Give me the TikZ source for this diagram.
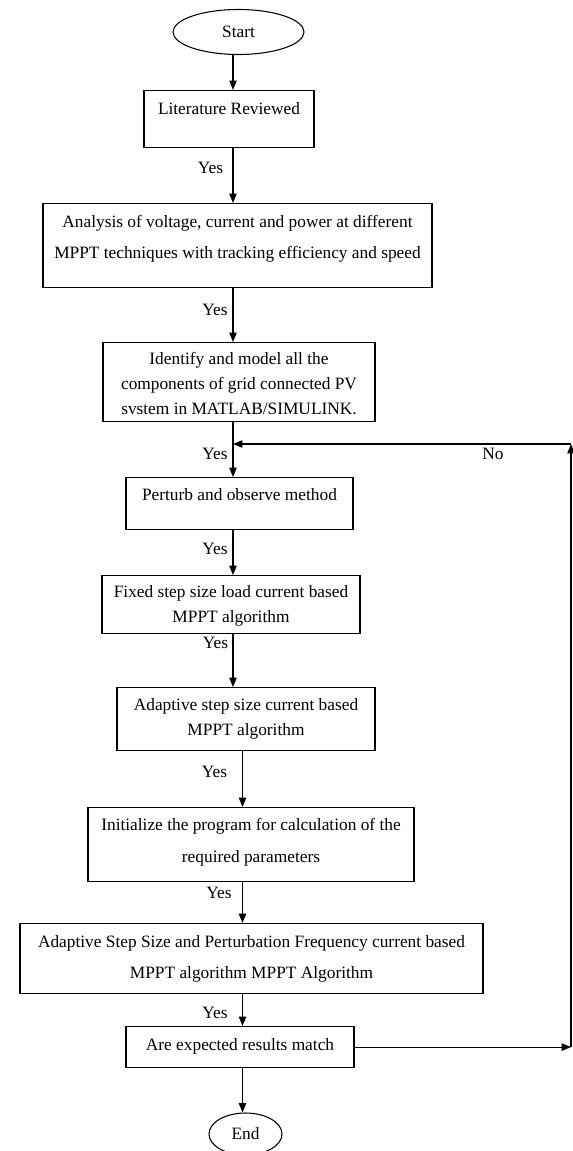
\documentclass[tikz,border=0pt]{standalone}
\usepackage{fontspec}
\setmainfont{Liberation Serif}
\usetikzlibrary{shapes.geometric,arrows.meta}
\begin{document}
\begin{tikzpicture}[x=0.75pt, y=-0.75pt,
        box/.style={draw, line width=0.9pt, inner sep=0pt, anchor=north, align=center},
        term/.style={draw, ellipse, line width=0.8pt, inner sep=0pt},
        lbl/.style={inner sep=0pt},
        arr/.style={line width=0.9pt, -{Triangle[length=7pt,width=5.5pt]}},
        font=\fontsize{13}{18.75}\selectfont]
        \useasboundingbox (0, 0) rectangle (573, 1151);
        \coordinate (spine) at (233, 0);
        \coordinate (spinelow) at (242.5, 0);
        \coordinate (looptop) at (571, 444);
        \node[term, minimum width=98.25pt, minimum height=33.75pt] (start) at (238.5, 32) {Start};
        \node[box, minimum width=127.5pt, text height=18pt, text depth=24.75pt] (lit) at (229, 90) {Literature Reviewed};
        \node[box, minimum width=291.75pt, text height=41.25pt, text depth=21.75pt] (ana) at (237.5, 203)
          {Analysis of voltage, current and power at different\\[4.5pt] MPPT techniques with tracking efficiency and speed};
        \node[box, minimum width=204pt, text height=54pt, text depth=5.25pt] (ident) at (239, 342)
          {Identify and model all the\\ components of grid connected PV\\ svstem in MATLAB/SIMULINK.};
        \node[box, minimum width=170.25pt, text height=17.25pt, text depth=21.75pt] (pno) at (239.5, 477) {Perturb and observe method};
        \node[box, minimum width=193.5pt, text height=35.25pt, text depth=8.25pt] (fixmppt) at (231, 575)
          {Fixed step size load current based\\ MPPT algorithm};
        \node[box, minimum width=193.5pt, text height=36pt, text depth=11.25pt] (adamppt) at (246, 687)
          {Adaptive step size current based\\ MPPT algorithm};
        \node[box, minimum width=244.5pt, text height=41.25pt, text depth=14.25pt] (init) at (251, 807)
          {Initialize the program for calculation of the\\[5.25pt] required parameters};
        \node[box, minimum width=347.25pt, text height=41.25pt, text depth=11.25pt] (asfmppt) at (251.5, 923)
          {Adaptive Step Size and Perturbation Frequency current based\\[4.5pt] MPPT algorithm MPPT Algorithm};
        \node[box, minimum width=171pt, text height=18pt, text depth=12.75pt] (check) at (240, 1026) {Are expected results match};
        \node[term, minimum width=54.75pt, minimum height=31.5pt] (stop) at (245.5, 1134) {End};
        \draw[arr] (start.south -| spine) -- (lit.north -| spine);
        \draw[arr] (lit.south -| spine) -- (ana.north -| spine);
        \draw[arr] (ana.south -| spine) -- (ident.north -| spine);
        \draw[arr] (ident.south -| spine) -- (pno.north -| spine);
        \draw[arr] (pno.south -| spine) -- (fixmppt.north -| spine);
        \draw[arr] (fixmppt.south -| spine) -- (adamppt.north -| spine);
        \draw[arr] (adamppt.south -| spinelow) -- (init.north -| spinelow);
        \draw[arr] (init.south -| spinelow) -- (asfmppt.north -| spinelow);
        \draw[arr] (asfmppt.south -| spinelow) -- (check.north -| spinelow);
        \draw[arr] (check.south -| spinelow) -- (stop.north -| spinelow);
        \draw[arr] (check.east) -- (check.east -| looptop);
        \draw[arr] (check.east -| looptop) -- (looptop);
        \draw[arr] (looptop) -- (looptop -| spine);
        \node[lbl] (yes1) at (210.5, 168) {Yes};
        \node[lbl] (yes2) at (215, 310) {Yes};
        \node[lbl] (yes3) at (215, 454) {Yes};
        \node[lbl] (no) at (493, 454) {No};
        \node[lbl] (yes4) at (215, 549) {Yes};
        \node[lbl] (yes5) at (215.5, 643) {Yes};
        \node[lbl] (yes6) at (214.5, 772) {Yes};
        \node[lbl] (yes7) at (219, 893) {Yes};
        \node[lbl] (yes8) at (215, 1013) {Yes};
\end{tikzpicture}
\end{document}
